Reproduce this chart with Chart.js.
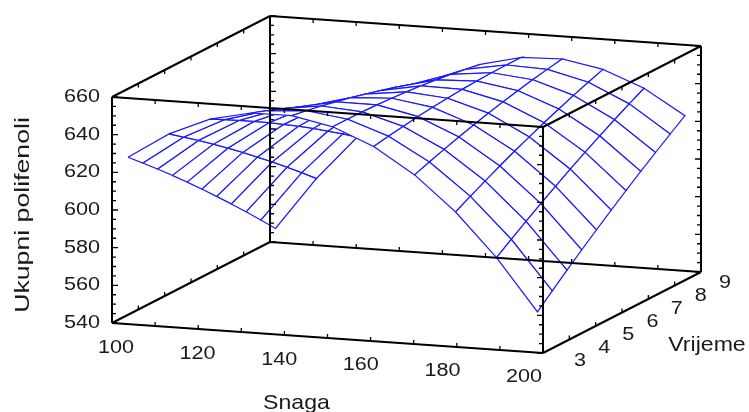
<!DOCTYPE html>
<html>
<head>
<meta charset="utf-8">
<title>Ukupni polifenoli</title>
<script src="https://cdn.jsdelivr.net/npm/chart.js@4.4.1/dist/chart.umd.min.js"></script>
<style>
  body { margin: 0; background: #fff; }
  #wrap { width: 749px; height: 412px; }
</style>
</head>
<body>
<div id="wrap"><canvas id="surface" width="749" height="412"></canvas></div>
<script>
// axis ticks
const snagaTicks = [100, 120, 140, 160, 180, 200];
const vrijemeTicks = [3, 4, 5, 6, 7, 8, 9];
const polifenoliTicks = [540, 560, 580, 600, 620, 640, 660];

// surface grid
const snaga = [102.5, 112, 121.5, 131, 140.5, 150, 159.5, 169, 178.5, 188, 197.5];
const vrijeme = [3.2, 3.76, 4.32, 4.88, 5.44, 6, 6.56, 7.12, 7.68, 8.24, 8.8];
// one row per vrijeme value, one column per snaga value
const polifenoli = [
  [627.0, 640.9, 650.2, 655.0, 655.1, 650.7, 641.7, 628.2, 610.0, 587.3, 560.0],
  [619.9, 635.2, 646.0, 652.1, 653.7, 650.7, 643.2, 631.0, 614.3, 593.0, 567.1],
  [612.7, 629.4, 641.6, 649.2, 652.2, 650.6, 644.4, 633.7, 618.4, 598.5, 574.1],
  [605.3, 623.4, 637.0, 646.0, 650.4, 650.3, 645.6, 636.3, 622.4, 603.9, 580.9],
  [597.7, 617.3, 632.3, 642.7, 648.6, 649.8, 646.5, 638.6, 626.2, 609.1, 587.5],
  [590.0, 611.0, 627.4, 639.3, 646.5, 649.2, 647.3, 640.9, 629.8, 614.2, 594.0],
  [582.1, 604.5, 622.4, 635.6, 644.3, 648.4, 648.0, 642.9, 633.3, 619.1, 600.3],
  [574.1, 597.9, 617.2, 631.9, 642.0, 647.5, 648.4, 644.8, 636.6, 623.8, 606.5],
  [565.9, 591.1, 611.8, 627.9, 639.4, 646.4, 648.8, 646.6, 639.8, 628.4, 612.5],
  [557.5, 584.2, 606.3, 623.8, 636.8, 645.1, 648.9, 648.1, 642.8, 632.8, 618.3],
  [549.0, 577.1, 600.6, 619.6, 633.9, 643.7, 648.9, 649.6, 645.6, 637.1, 624.0]
];

const S0 = snagaTicks[0], S1 = snagaTicks[snagaTicks.length - 1];
const V0 = vrijemeTicks[0], V1 = vrijemeTicks[vrijemeTicks.length - 1];
const Z0 = polifenoliTicks[0], Z1 = polifenoliTicks[polifenoliTicks.length - 1];

// view: screen px (right, down) for the full snaga / vrijeme span
const snagaDir = [431, 30];
const vrijemeDir = [158, -81];
const boxLeft = 112, boxTop = 97, boxBottom = 323;
const zPx = (boxBottom - boxTop) / (Z1 - Z0);

function frac(s, v) {
  return [(s - S0) / (S1 - S0), (v - V0) / (V1 - V0)];
}

function project(s, v, z) {
  const [a, b] = frac(s, v);
  return {
    x: snagaDir[0] * a + vrijemeDir[0] * b,
    y: z - (snagaDir[1] * a + vrijemeDir[1] * b) / zPx
  };
}

// how near a point is to the viewer (for drawing back to front)
function nearness(s, v, z) {
  const [a, b] = frac(s, v);
  return 156 * a - 421 * b + 0.362 * (z - Z0);
}

// pixel nudge, dy > 0 is up
function shift(p, dx, dy) {
  return { x: p.x + dx, y: p.y + dy / zPx };
}

const gap = { x: null, y: null };

// box edges
let boxData = [];
function edge(p, q) { boxData.push(p, q, gap); }
[V0, V1].forEach(v => [Z0, Z1].forEach(z => edge(project(S0, v, z), project(S1, v, z))));
[S0, S1].forEach(s => [Z0, Z1].forEach(z => edge(project(s, V0, z), project(s, V1, z))));
[S0, S1].forEach(s => [V0, V1].forEach(v => edge(project(s, v, Z0), project(s, v, Z1))));

// little tick marks on the box
let tickData = [];
function tick(p, dx, dy) { tickData.push(p, shift(p, dx, dy), gap); }
for (let z = Z0; z <= Z1; z += 5) {
  const len = (z - Z0) % 20 === 0 ? 6 : 4;
  tick(project(S0, V0, z), len, 0);
  tick(project(S0, V1, z), len, 0);
  tick(project(S1, V0, z), -len, 0);
  tick(project(S1, V1, z), -len, 0);
}
for (let s = S0 + 10; s < S1; s += 10) {
  tick(project(s, V0, Z0), 0, 4);
  tick(project(s, V1, Z0), 0, 4);
  tick(project(s, V0, Z1), 0, -4);
  tick(project(s, V1, Z1), 0, -4);
}
for (let v = V0 + 1; v < V1; v += 1) {
  tick(project(S0, v, Z0), 0, 4);
  tick(project(S1, v, Z0), 0, 4);
  tick(project(S0, v, Z1), 0, -4);
  tick(project(S1, v, Z1), 0, -4);
}

// surface cells, white filled so farther lines get covered
let cells = [];
for (let j = 0; j < vrijeme.length - 1; j++) {
  for (let i = 0; i < snaga.length - 1; i++) {
    const corners = [[i, j], [i + 1, j], [i + 1, j + 1], [i, j + 1], [i, j]];
    const pts = corners.map(([ci, cj]) => project(snaga[ci], vrijeme[cj], polifenoli[cj][ci]));
    let near = 0;
    corners.slice(0, 4).forEach(([ci, cj]) => { near += nearness(snaga[ci], vrijeme[cj], polifenoli[cj][ci]) / 4; });
    cells.push({ pts, near });
  }
}
cells.sort((p, q) => q.near - p.near); // nearest first = drawn last

const cellSets = cells.map(c => ({
  data: c.pts,
  showLine: true,
  borderColor: 'rgb(25,25,255)',
  borderWidth: 1.2,
  backgroundColor: '#ffffff',
  fill: 'shape',
  pointRadius: 0,
  clip: false
}));

const textColor = '#1a1a1a';
const fontFamily = "'Liberation Sans', Arial, sans-serif";
Chart.defaults.font.family = fontFamily;

// the picture's lettering is a bit wide, so stretch it sideways
function drawText(ctx, text, x, y, size, stretch, align, rotate) {
  ctx.save();
  ctx.translate(x, y);
  if (rotate) ctx.rotate(rotate);
  ctx.scale(stretch, 1);
  ctx.font = size + 'px ' + fontFamily;
  ctx.fillStyle = textColor;
  ctx.textAlign = align;
  ctx.textBaseline = 'middle';
  ctx.fillText(text, 0, 0);
  ctx.restore();
}

const axisLabels = {
  id: 'axisLabels',
  afterDraw(chart) {
    const ctx = chart.ctx, xs = chart.scales.x, ys = chart.scales.y;
    const px = p => [xs.getPixelForValue(p.x), ys.getPixelForValue(p.y)];

    ys.ticks.forEach(t => {
      drawText(ctx, String(t.value), boxLeft - 12, ys.getPixelForValue(t.value), 18, 1.2, 'right');
    });
    snagaTicks.forEach(s => {
      const a = frac(s, V0)[0];
      const [x, y] = px(project(s, V0, Z0));
      drawText(ctx, String(s), x + 4 - 23 * a, y + 25 - a, 18, 1.2, 'center');
    });
    vrijemeTicks.forEach(v => {
      const b = frac(S1, v)[1];
      const [x, y] = px(project(S1, v, Z0));
      drawText(ctx, String(v), x + 37 - 13 * b, y + 8 + 3 * b, 18, 1.2, 'center');
    });

    let [x, y] = px(project((S0 + S1) / 2, V0, Z0));
    drawText(ctx, 'Snaga', x - 31, y + 65, 21, 1.1, 'center');
    [x, y] = px(project(S1, (V0 + V1) / 2, Z0));
    drawText(ctx, 'Vrijeme', x + 85, y + 33, 21, 1.1, 'center');
    const mid = (ys.getPixelForValue(Z0) + ys.getPixelForValue(Z1)) / 2;
    drawText(ctx, 'Ukupni polifenoli', 23, mid + 5, 21, 1.27, 'center', -Math.PI / 2);
  }
};

const chart = new Chart(document.getElementById('surface'), {
  type: 'scatter',
  data: {
    datasets: [
      { data: boxData, showLine: true, borderColor: '#000', borderWidth: 2, pointRadius: 0, clip: false },
      { data: tickData, showLine: true, borderColor: '#000', borderWidth: 1.3, pointRadius: 0, clip: false },
      ...cellSets
    ]
  },
  options: {
    responsive: false,
    animation: false,
    events: [],
    layout: { padding: { left: 0, top: 20, right: 5, bottom: 2 } },
    plugins: { legend: { display: false }, tooltip: { enabled: false } },
    scales: {
      x: { type: 'linear', display: false, min: 0, max: 600 },
      y: {
        min: 500,
        max: 700,
        afterBuildTicks: sc => { sc.ticks = polifenoliTicks.map(v => ({ value: v })); },
        afterFit: sc => { sc.width = boxLeft; },
        grid: { display: false, drawTicks: false },
        border: { display: false },
        ticks: { display: false },
        title: { display: false, text: 'Ukupni polifenoli' }
      }
    }
  },
  plugins: [axisLabels]
});

// pin the scales so the box lands where it sits in the picture
function fitBox() {
  const { top, bottom, left, right } = chart.chartArea;
  const y = chart.options.scales.y, x = chart.options.scales.x;
  y.min = Z0 - (bottom - boxBottom) / zPx;
  y.max = Z1 + (boxTop - top) / zPx;
  x.min = left - boxLeft;
  x.max = x.min + (right - left);
  chart.update();
}
fitBox();
</script>
</body>
</html>
